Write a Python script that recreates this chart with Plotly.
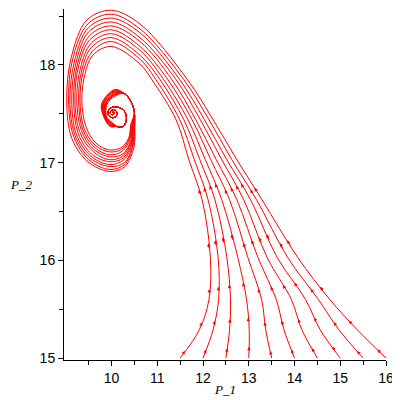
import plotly.graph_objects as go

# ---- data ----
start_x = [11.5, 12.0, 12.5, 13.0, 13.5, 14.0, 14.5, 15.0, 15.5, 16.0]
start_y = 15.0

# descending branch: x of each trajectory where it crosses these P_2 levels
level_y = [15.29, 15.60, 16.03, 16.62, 17.03, 17.44, 17.85]
level_x = [
    [11.92, 12.22, 12.58, 13.01, 13.37, 13.77, 14.16, 14.56, 14.97, 15.37],
    [12.13, 12.34, 12.60, 12.95, 13.28, 13.60, 13.93, 14.24, 14.52, 14.77],
    [12.16, 12.33, 12.52, 12.76, 12.98, 13.20, 13.40, 13.62, 13.85, 14.07],
    [11.98, 12.11, 12.26, 12.41, 12.58, 12.74, 12.89, 13.04, 13.17, 13.29],
    [11.69, 11.81, 11.93, 12.05, 12.17, 12.29, 12.41, 12.52, 12.63, 12.74],
    [11.41, 11.49, 11.58, 11.67, 11.76, 11.84, 11.94, 12.03, 12.13, 12.22],
    [10.88, 10.97, 11.06, 11.14, 11.23, 11.32, 11.41, 11.49, 11.58, 11.66],
]

# outer loop of the spiral
upper_x = 10.62
upper_y = [18.01, 18.06, 18.10, 18.15, 18.19, 18.24, 18.28, 18.33, 18.37, 18.42]
peak_x = 9.99
peak_y = [18.19, 18.24, 18.28, 18.32, 18.36, 18.40, 18.44, 18.48, 18.52, 18.56]
ul_x = [9.59, 9.58, 9.56, 9.55, 9.53, 9.52, 9.50, 9.49, 9.48, 9.46]
ul_y = [18.10, 18.14, 18.18, 18.22, 18.26, 18.30, 18.34, 18.38, 18.42, 18.46]
lu_x = [9.42, 9.38, 9.35, 9.32, 9.28, 9.25, 9.22, 9.19, 9.15, 9.12]
lu_y = [17.91, 17.93, 17.95, 17.97, 17.99, 18.00, 18.02, 18.04, 18.06, 18.08]
left_x = [9.35, 9.31, 9.28, 9.24, 9.20, 9.17, 9.13, 9.09, 9.06, 9.02]
left_y = 17.64
ll_x = [9.44, 9.40, 9.37, 9.34, 9.30, 9.27, 9.23, 9.20, 9.17, 9.13]
ll_y = [17.37, 17.35, 17.34, 17.33, 17.32, 17.30, 17.29, 17.28, 17.27, 17.25]
bl_x = [9.66, 9.64, 9.62, 9.60, 9.58, 9.56, 9.54, 9.52, 9.50, 9.48]
bl_y = [17.20, 17.18, 17.16, 17.14, 17.12, 17.09, 17.07, 17.05, 17.03, 17.01]
bottom_x = 9.96
bottom_y = [17.13, 17.11, 17.08, 17.06, 17.03, 17.01, 16.98, 16.96, 16.93, 16.91]
br_x = [10.23, 10.23, 10.24, 10.25, 10.25, 10.26, 10.27, 10.28, 10.28, 10.29]
br_y = [17.16, 17.14, 17.12, 17.09, 17.07, 17.05, 17.03, 17.00, 16.98, 16.96]
r_x = [10.38, 10.39, 10.40, 10.42, 10.43, 10.44, 10.45, 10.46, 10.47, 10.49]
r_y = [17.26, 17.25, 17.24, 17.23, 17.22, 17.21, 17.20, 17.18, 17.17, 17.16]
ru_x = [10.42, 10.43, 10.44, 10.45, 10.46, 10.47, 10.48, 10.49, 10.50, 10.51]
ru_y = [17.39, 17.38, 17.38, 17.38, 17.37, 17.37, 17.36, 17.36, 17.36, 17.36]

# second loop (thick band) and core of the spiral
approach_x = [10.50, 10.42, 10.27]
approach_y = [17.51, 17.63, 17.71]
top2_x = 10.07
top2_y = [17.68, 17.69, 17.70, 17.70, 17.71, 17.72, 17.73, 17.73, 17.74, 17.75]
left2_x = [9.90, 9.89, 9.87, 9.86, 9.85, 9.83, 9.82, 9.81, 9.79, 9.78]
left2_y = 17.60
lb2_x = [9.89, 9.88, 9.88, 9.87, 9.86, 9.86, 9.85, 9.84, 9.84, 9.83]
lb2_y = 17.47
bot2_x = 9.97
bot2_y = [17.43, 17.42, 17.42, 17.41, 17.40, 17.40, 17.39, 17.38, 17.38, 17.37]
core_x = [10.12, 10.25, 10.32, 10.31, 10.23, 10.10, 9.98, 9.92, 9.94,
          10.02, 10.09, 10.12, 10.07, 10.01, 9.97, 10.01, 10.05, 10.04, 10.01]
core_y = [17.37, 17.37, 17.43, 17.50, 17.55, 17.57, 17.56, 17.52, 17.48,
          17.46, 17.47, 17.51, 17.54, 17.54, 17.51, 17.49, 17.50, 17.52, 17.51]

x_ticks = [10, 11, 12, 13, 14, 15, 16]
x_minor = [9.5, 10.5, 11.5, 12.5, 13.5, 14.5, 15.5]
y_ticks = [15, 16, 17, 18]
y_minor = [15.5, 16.5, 17.5, 18.5]

RED = "#ff0000"
fig = go.Figure()
annotations = []
for k in range(len(start_x)):
    xs = [start_x[k]] + [row[k] for row in level_x]
    ys = [start_y] + list(level_y)
    xs += [upper_x, peak_x, ul_x[k], lu_x[k], left_x[k], ll_x[k], bl_x[k],
           bottom_x, br_x[k], r_x[k], ru_x[k]]
    ys += [upper_y[k], peak_y[k], ul_y[k], lu_y[k], left_y, ll_y[k], bl_y[k],
           bottom_y[k], br_y[k], r_y[k], ru_y[k]]
    xs += approach_x + [top2_x, left2_x[k], lb2_x[k], bot2_x] + core_x
    ys += approach_y + [top2_y[k], left2_y, lb2_y, bot2_y[k]] + core_y
    fig.add_trace(go.Scatter(x=xs, y=ys, mode="lines",
                             line=dict(color=RED, width=1, shape="spline", smoothing=1.0),
                             hoverinfo="skip"))
    # small arrowheads along the descending branch (staggered a little)
    t = 0.25 + 0.05 * (k % 4)
    for i in range(0, 5):
        x0, y0 = xs[i], ys[i]
        x1, y1 = xs[i + 1], ys[i + 1]
        hx, hy = x0 + t * (x1 - x0), y0 + t * (y1 - y0)
        tx, ty = x0 + (t - 0.12) * (x1 - x0), y0 + (t - 0.12) * (y1 - y0)
        annotations.append(dict(
            x=hx, y=hy, ax=tx, ay=ty,
            xref="x", yref="y", axref="x", ayref="y", text="",
            showarrow=True, arrowhead=2, arrowsize=0.7, arrowwidth=1,
            arrowcolor=RED, standoff=0, startstandoff=0))

annotations.append(dict(text="<i>P_1</i>", xref="paper", yref="paper", x=0.5, y=-0.083,
                        showarrow=False, font=dict(family="Liberation Serif", size=13, color="black"),
                        xanchor="center", yanchor="middle"))
annotations.append(dict(text="<i>P_2</i>", xref="paper", yref="paper", x=-0.134, y=0.499,
                        showarrow=False, font=dict(family="Liberation Serif", size=13, color="black"),
                        xanchor="center", yanchor="middle"))

axis_common = dict(showgrid=False, zeroline=False, showline=True, linecolor="black",
                   linewidth=1, ticks="outside", ticklen=5, tickcolor="black", tickwidth=1,
                   tickfont=dict(family="Liberation Sans", size=14, color="black"))
# the page body adds an 8px offset, so the figure is 392px and margins are shifted
fig.update_layout(
    width=392, height=392,
    margin=dict(l=56, r=14, t=1, b=40, pad=0),
    plot_bgcolor="white", paper_bgcolor="white",
    showlegend=False,
    annotations=annotations,
    xaxis=dict(range=[8.96, 16.0], tickmode="array", tickvals=x_ticks,
               minor=dict(tickmode="array", tickvals=x_minor, ticks="outside", ticklen=4,
                          tickcolor="black", showgrid=False),
               **axis_common),
    yaxis=dict(range=[14.98, 18.573], tickmode="array", tickvals=y_ticks,
               minor=dict(tickmode="array", tickvals=y_minor, ticks="outside", ticklen=4,
                          tickcolor="black", showgrid=False),
               **axis_common),
)
fig.write_html("out.html")
